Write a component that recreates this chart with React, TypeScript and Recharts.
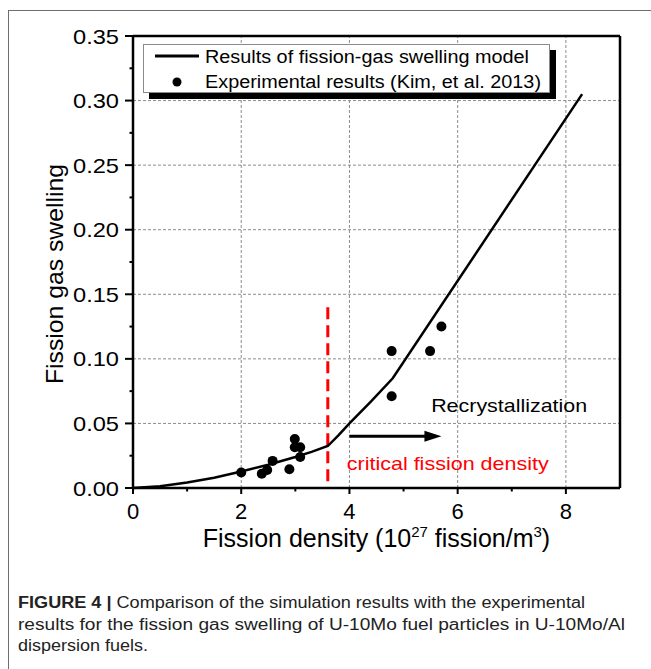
import React from 'react';
import {
  ComposedChart,
  Line,
  Scatter,
  XAxis,
  YAxis,
  ReferenceLine,
  ReferenceDot,
  Legend,
  Label,
} from 'recharts';

// Model curve: fission density (1e27 fission/m^3) vs swelling
const modelX = [0, 0.5, 1, 1.5, 2, 2.5, 3, 3.3, 3.6, 3.8, 4.0, 4.4, 4.8, 8.3];
const modelY = [0, 0.0013, 0.0042, 0.008, 0.0128, 0.018, 0.024, 0.028, 0.0325, 0.041, 0.05, 0.067, 0.085, 0.305];

// Experimental results (Kim, et al. 2013)
const expX = [2.0, 2.38, 2.48, 2.58, 2.89, 2.99, 2.99, 3.09, 3.09, 4.78, 4.78, 5.49, 5.7];
const expY = [0.012, 0.011, 0.014, 0.021, 0.0145, 0.038, 0.0315, 0.0315, 0.024, 0.106, 0.071, 0.106, 0.125];

const xTicks = [0, 1, 2, 3, 4, 5, 6, 7, 8];
const xMajor = [0, 2, 4, 6, 8];
const yTicks = [0, 0.025, 0.05, 0.075, 0.1, 0.125, 0.15, 0.175, 0.2, 0.225, 0.25, 0.275, 0.3, 0.325, 0.35];
const yMajor = [0, 0.05, 0.1, 0.15, 0.2, 0.25, 0.3, 0.35];
const xGrid = [2, 4, 6, 8];
const yGrid = [0.05, 0.1, 0.15, 0.2, 0.25, 0.3];
const xMax = 9;
const yMax = 0.35;
const criticalDensity = 3.6;

const seriesNames = ['Results of fission-gas swelling model', 'Experimental results (Kim, et al. 2013)'];
const captionLines = [
  'Comparison of the simulation results with the experimental',
  'results for the fission gas swelling of U-10Mo fuel particles in U-10Mo/Al',
  'dispersion fuels.',
];

const modelData = modelX.map((x, i) => ({ x, y: modelY[i] }));
const expData = expX.map((x, i) => ({ x, y: expY[i] }));

const FONT = '"Liberation Sans", Arial, sans-serif';

const isMajor = (v: number, list: number[]) => list.some((m) => Math.abs(m - v) < 1e-9);

const YTick = (props: any) => {
  const { x, y, payload } = props;
  const v = payload.value as number;
  const major = isMajor(v, yMajor);
  return (
    <g>
      <line x1={x - (major ? 8 : 3.5)} x2={x} y1={y} y2={y} stroke="#000" strokeWidth={2} />
      {major && (
        <text
          x={x - 14}
          y={y}
          dy="0.36em"
          textAnchor="end"
          fontSize={21}
          fontFamily={FONT}
          fill="#000"
          textLength={46}
          lengthAdjust="spacingAndGlyphs"
        >
          {v.toFixed(2)}
        </text>
      )}
    </g>
  );
};

const XTick = (props: any) => {
  const { x, y, payload } = props;
  const v = payload.value as number;
  const major = isMajor(v, xMajor);
  return (
    <g>
      <line x1={x} x2={x} y1={y} y2={y + (major ? 6 : 3.5)} stroke="#000" strokeWidth={2} />
      {major && (
        <text x={x} y={y + 31} textAnchor="middle" fontSize={22} fontFamily={FONT} fill="#000">
          {String(v)}
        </text>
      )}
    </g>
  );
};

const LegendBox = () => (
  <div
    style={{
      boxSizing: 'border-box',
      width: 407,
      height: 49,
      background: '#fff',
      border: '1px solid #8a8a8a',
      boxShadow: '6px 6px 0 #000',
      position: 'relative',
    }}
  >
    <svg width={405} height={47} style={{ position: 'absolute', left: 0, top: 0 }}>
      <line x1={11} x2={55} y1={11} y2={11} stroke="#000" strokeWidth={3} />
      <circle cx={33} cy={37} r={4.5} fill="#000" />
      <text x={61} y={18} fontSize={18} fontFamily={FONT} fill="#000" textLength={324} lengthAdjust="spacingAndGlyphs">
        {seriesNames[0]}
      </text>
      <text x={61} y={43} fontSize={18} fontFamily={FONT} fill="#000" textLength={336} lengthAdjust="spacingAndGlyphs">
        {seriesNames[1]}
      </text>
    </svg>
  </div>
);

const Arrow = (props: any) => {
  const { x1, y1, x2, y2 } = props;
  return (
    <g>
      <line x1={x1} y1={y1} x2={x2 - 12} y2={y2} stroke="#000" strokeWidth={3} />
      <polygon points={`${x2},${y2} ${x2 - 17},${y2 - 5.5} ${x2 - 17},${y2 + 5.5}`} fill="#000" />
    </g>
  );
};

export default function App() {
  return (
    <div style={{ position: 'absolute', left: 0, top: 0, width: 651, height: 669, background: '#fff' }}>
      <div
        style={{
          position: 'absolute',
          left: 8,
          top: 10,
          width: 643,
          height: 659,
          borderTop: '1px solid #6e6e6e',
          borderLeft: '1px solid #6e6e6e',
          boxSizing: 'border-box',
        }}
      />
      <div style={{ position: 'absolute', left: 0, top: 0 }}>
        <ComposedChart width={651} height={669} margin={{ top: 36, right: 31, left: 0, bottom: 141 }}>
          <XAxis
            type="number"
            dataKey="x"
            domain={[0, xMax]}
            ticks={xTicks}
            interval={0}
            tickSize={0}
            tickMargin={0}
            tick={<XTick />}
            axisLine={{ stroke: '#000', strokeWidth: 2.5 }}
            height={40}
          >
            <Label
              content={(p: any) => {
                const vb = p.viewBox;
                return (
                  <text x={vb.x + vb.width / 2} y={547} textAnchor="middle" fontSize={25} fontFamily={FONT} fill="#000">
                    Fission density (10
                    <tspan dy={-10} fontSize={15}>27</tspan>
                    <tspan dy={10}> fission/m</tspan>
                    <tspan dy={-10} fontSize={15}>3</tspan>
                    <tspan dy={10}>)</tspan>
                  </text>
                );
              }}
            />
          </XAxis>
          <YAxis
            type="number"
            domain={[0, yMax]}
            ticks={yTicks}
            interval={0}
            tickSize={0}
            tickMargin={0}
            tick={<YTick />}
            axisLine={{ stroke: '#000', strokeWidth: 2.5 }}
            width={133}
          >
            <Label
              content={() => (
                <text
                  x={63}
                  y={274}
                  transform="rotate(-90 63 274)"
                  textAnchor="middle"
                  fontSize={24}
                  fontFamily={FONT}
                  fill="#000"
                  textLength={220}
                  lengthAdjust="spacingAndGlyphs"
                >
                  Fission gas swelling
                </text>
              )}
            />
          </YAxis>

          {xGrid.map((v) => (
            <ReferenceLine key={'gx' + v} x={v} stroke="#8c8c8c" strokeWidth={1} strokeDasharray="3 2" />
          ))}
          {yGrid.map((v) => (
            <ReferenceLine key={'gy' + v} y={v} stroke="#8c8c8c" strokeWidth={1} strokeDasharray="3 2" />
          ))}
          <ReferenceLine y={yMax} stroke="#000" strokeWidth={2.5} />
          <ReferenceLine x={xMax} stroke="#000" strokeWidth={2.5} />

          <ReferenceLine
            segment={[
              { x: criticalDensity, y: 0.14 },
              { x: criticalDensity, y: 0.003 },
            ]}
            stroke="#ff0000"
            strokeWidth={3}
            strokeDasharray="12 6"
          />

          <Line
            data={modelData}
            dataKey="y"
            type="linear"
            stroke="#000"
            strokeWidth={2.5}
            dot={false}
            isAnimationActive={false}
            legendType="line"
            name={seriesNames[0]}
          />
          <Scatter
            data={expData}
            dataKey="y"
            fill="#000"
            isAnimationActive={false}
            shape={(p: any) => <circle cx={p.cx} cy={p.cy} r={5} fill="#000" />}
            name={seriesNames[1]}
          />

          <ReferenceLine
            segment={[
              { x: 4.0, y: 0.04 },
              { x: 5.7, y: 0.04 },
            ]}
            shape={(p: any) => <Arrow {...p} />}
          />
          <ReferenceDot
            x={5.51}
            y={0.0588}
            r={0}
            shape={(p: any) => (
              <text
                x={p.cx}
                y={p.cy}
                fontSize={19}
                fontFamily={FONT}
                fill="#000"
                textLength={156}
                lengthAdjust="spacingAndGlyphs"
              >
                Recrystallization
              </text>
            )}
          />
          <ReferenceDot
            x={3.95}
            y={0.0137}
            r={0}
            shape={(p: any) => (
              <text
                x={p.cx}
                y={p.cy}
                fontSize={19}
                fontFamily={FONT}
                fill="#ff0000"
                textLength={202}
                lengthAdjust="spacingAndGlyphs"
              >
                critical fission density
              </text>
            )}
          />

          <Legend
            layout="horizontal"
            verticalAlign="middle"
            wrapperStyle={{ position: 'absolute', left: 143, top: 44, width: 407, height: 49 }}
            content={() => <LegendBox />}
          />
        </ComposedChart>
      </div>
      <svg width={651} height={80} style={{ position: 'absolute', left: 0, top: 589 }}>
        <text
          x={18}
          y={19}
          fontSize={16}
          fontFamily={FONT}
          fill="#222"
          textLength={567}
          lengthAdjust="spacingAndGlyphs"
        >
          <tspan fontWeight="bold">FIGURE 4 | </tspan>
          {captionLines[0]}
        </text>
        <text x={18} y={41} fontSize={16} fontFamily={FONT} fill="#222" textLength={607} lengthAdjust="spacingAndGlyphs">
          {captionLines[1]}
        </text>
        <text x={18} y={62} fontSize={16} fontFamily={FONT} fill="#222" textLength={130} lengthAdjust="spacingAndGlyphs">
          {captionLines[2]}
        </text>
      </svg>
    </div>
  );
}
